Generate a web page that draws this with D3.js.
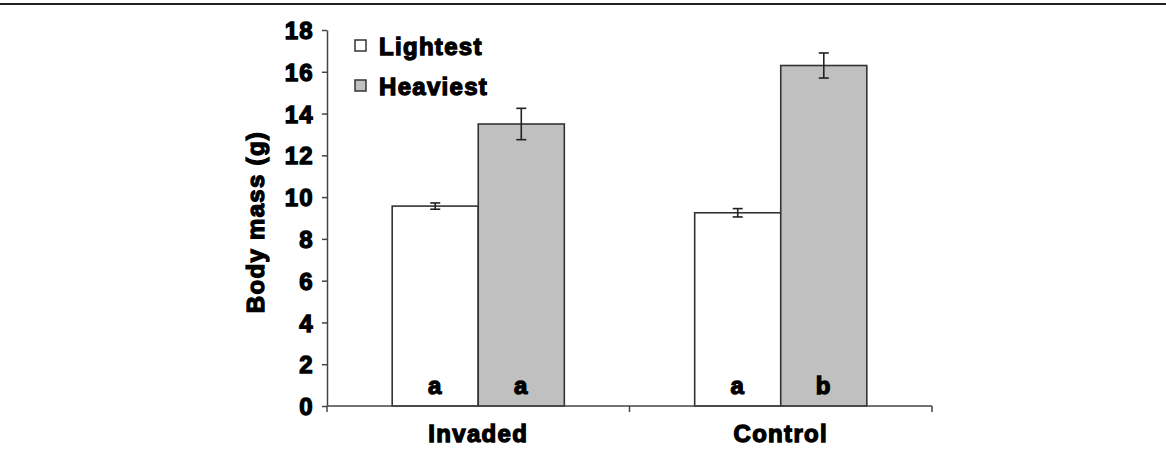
<!DOCTYPE html>
<html>
<head>
<meta charset="utf-8">
<script src="https://cdn.jsdelivr.net/npm/d3@7"></script>
<style>
  body { margin: 0; background: #fff; }
  text { font-family: "Liberation Sans", Arial, sans-serif; font-weight: bold; fill: #000; }
  .heavy { stroke: #000; stroke-width: 1.3px; letter-spacing: 1.3px; paint-order: stroke; }
</style>
</head>
<body>
<div id="vis-container"></div>
<script>
// data
const categories = ['Invaded', 'Control']
const series = ['Lightest', 'Heaviest']
const lightest = [9.57, 9.25]
const heaviest = [13.5, 16.3]
const lightestErr = [0.15, 0.2]
const heaviestErr = [0.75, 0.6]
const letters = [['a', 'a'], ['a', 'b']]
const yTicks = [0, 2, 4, 6, 8, 10, 12, 14, 16, 18]

const svgWidth = 1166
const svgHeight = 452
const margin = { left: 327, right: 234, top: 30, bottom: 46 }
const width = svgWidth - margin.left - margin.right
const height = svgHeight - margin.top - margin.bottom

const root = d3.select('#vis-container')
    .append('svg')
    .attr('width', svgWidth)
    .attr('height', svgHeight)

// frame line at the top
root.append('line')
    .attr('x1', 0).attr('x2', svgWidth)
    .attr('y1', 4).attr('y2', 4)
    .attr('stroke', '#222').attr('stroke-width', 2)

const svg = root.append('g')
    .attr('transform', `translate(${margin.left},${margin.top})`)

// scales
const p = 0.431
const x0 = d3.scaleBand()
    .domain(categories)
    .range([0, width])
    .paddingInner(p)
    .paddingOuter(p / 2)

const x1 = d3.scaleBand()
    .domain(series)
    .range([0, x0.bandwidth()])

const y = d3.scaleLinear()
    .domain([0, 18])
    .range([height, 0])

const fill = d3.scaleOrdinal().domain(series).range(['#ffffff', '#c0c0c0'])

const rows = categories.map((c, i) => ({
    cat: c,
    vals: [
        { s: 'Lightest', v: lightest[i], e: lightestErr[i], l: letters[i][0] },
        { s: 'Heaviest', v: heaviest[i], e: heaviestErr[i], l: letters[i][1] }
    ]
}))

// bars
const groups = svg.selectAll('.grp')
    .data(rows)
    .join('g')
    .attr('class', 'grp')
    .attr('transform', d => `translate(${x0(d.cat)},0)`)

groups.selectAll('rect')
    .data(d => d.vals)
    .join('rect')
    .attr('x', d => x1(d.s))
    .attr('y', d => y(d.v))
    .attr('width', x1.bandwidth())
    .attr('height', d => height - y(d.v))
    .attr('fill', d => fill(d.s))
    .attr('stroke', '#333')
    .attr('stroke-width', 1.6)

// error bars
const eb = groups.selectAll('.err')
    .data(d => d.vals)
    .join('g')
    .attr('class', 'err')
    .attr('transform', d => `translate(${x1(d.s) + x1.bandwidth() / 2},0)`)
    .attr('stroke', '#222')
    .attr('stroke-width', 1.6)

eb.append('line').attr('y1', d => y(d.v + d.e)).attr('y2', d => y(d.v - d.e))
eb.append('line').attr('x1', -5).attr('x2', 5).attr('y1', d => y(d.v + d.e)).attr('y2', d => y(d.v + d.e))
eb.append('line').attr('x1', -5).attr('x2', 5).attr('y1', d => y(d.v - d.e)).attr('y2', d => y(d.v - d.e))

// significance letters
groups.selectAll('.letter')
    .data(d => d.vals)
    .join('text')
    .attr('class', 'letter heavy')
    .attr('x', d => x1(d.s) + x1.bandwidth() / 2)
    .attr('y', height - 12)
    .attr('text-anchor', 'middle')
    .attr('font-size', 24)
    .text(d => d.l)

// y axis
const yAxis = svg.append('g')
    .call(d3.axisLeft(y).tickValues(yTicks).tickSize(5).tickSizeOuter(0).tickPadding(8))
yAxis.select('.domain').attr('stroke', '#444').attr('stroke-width', 1.5)
yAxis.selectAll('.tick line').attr('stroke', '#444').attr('stroke-width', 1.5)
yAxis.selectAll('.tick text')
    .attr('class', 'heavy')
    .attr('font-size', 24)
    .attr('dy', '0.36em')

// x axis: ticks at category boundaries
const xAxis = svg.append('g').attr('transform', `translate(0,${height})`)
xAxis.append('line')
    .attr('x1', 0).attr('x2', width)
    .attr('stroke', '#444').attr('stroke-width', 1.5)
const bounds = d3.range(categories.length + 1).map(i => i * x0.step())
xAxis.selectAll('.xt')
    .data(bounds)
    .join('line')
    .attr('class', 'xt')
    .attr('x1', d => d).attr('x2', d => d)
    .attr('y1', 0).attr('y2', 6)
    .attr('stroke', '#444').attr('stroke-width', 1.5)
xAxis.selectAll('.xl')
    .data(categories)
    .join('text')
    .attr('class', 'xl heavy')
    .attr('x', d => x0(d) + x0.bandwidth() / 2)
    .attr('y', 36)
    .attr('text-anchor', 'middle')
    .attr('font-size', 24)
    .text(d => d)

// y axis title
svg.append('text')
    .attr('class', 'heavy')
    .attr('transform', `translate(-63,${height / 2 + 4}) rotate(-90)`)
    .attr('text-anchor', 'middle')
    .attr('font-size', 24)
    .text('Body mass (g)')

// legend
const legend = svg.append('g').attr('transform', 'translate(28,10)')
const li = legend.selectAll('g')
    .data(series)
    .join('g')
    .attr('transform', (d, i) => `translate(0,${i * 40})`)
li.append('rect')
    .attr('width', 11).attr('height', 11)
    .attr('fill', d => fill(d))
    .attr('stroke', '#333').attr('stroke-width', 1.5)
li.append('text')
    .attr('class', 'heavy')
    .attr('x', 24)
    .attr('y', 15)
    .attr('font-size', 24)
    .text(d => d)
</script>
</body>
</html>
